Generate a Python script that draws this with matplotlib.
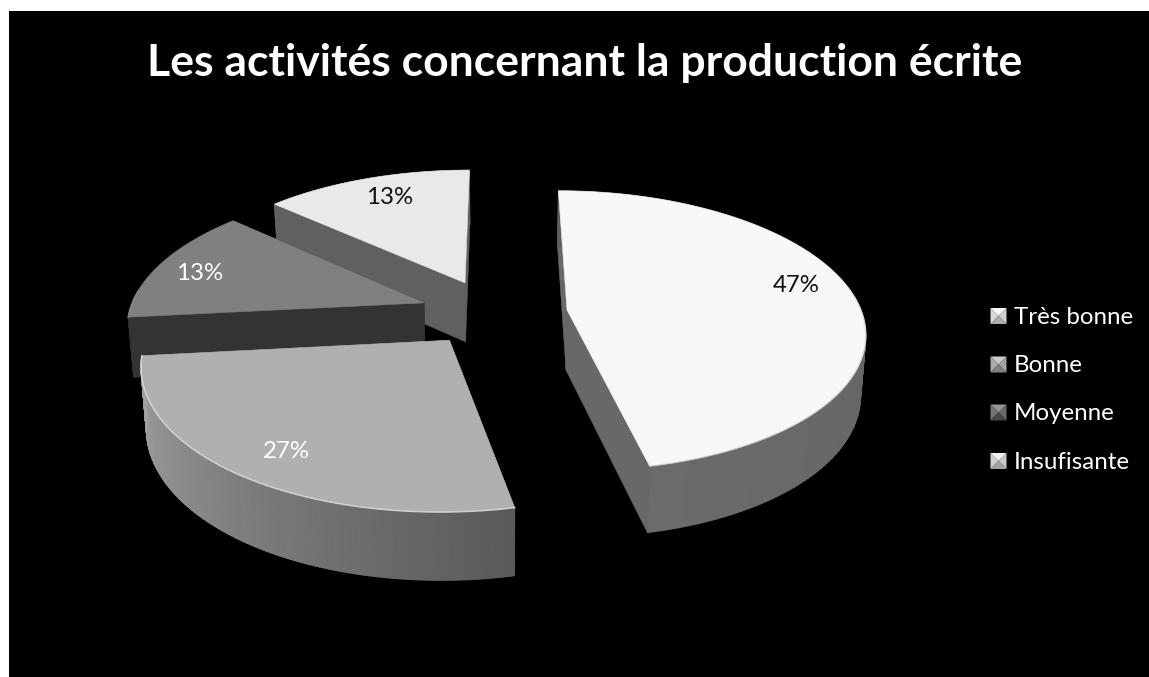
#!/usr/bin/env python3
# 3D exploded pie, drawn by hand since matplotlib has no perspective pie
import numpy as np
import matplotlib
matplotlib.use("Agg")
import matplotlib.pyplot as plt
from matplotlib.patches import Polygon, Rectangle

#-- Data
title = "Les activités concernant la production écrite"
categories = ["Très bonne", "Bonne", "Moyenne", "Insufisante"]
counts = [7, 4, 2, 2]

#-- Slice styles
top_grey = ["#f7f7f7", "#b0b0b0", "#808080", "#e9e9e9"]
cut_grey = ["#686868", "#5a5a5a", "#333333", "#606060"]
wall_start = [0.37, 0.35, 0.20, 0.38]
wall_end = [0.42, 0.64, 0.20, 0.38]
rim_grey = ["#c4c4c4", "#e6e6e6", "#8c8c8c", "#f0f0f0"]
rim_alpha = [0.45, 0.7, 0.7, 0.7]
text_grey = ["#111111", "#ffffff", "#ffffff", "#111111"]
explode_a = [67, -49, -76.6, -36]
explode_b = [0, 63, -15.5, -60]
label_x = [796, 286, 200, 390]
label_y = [286, 452, 273, 198]
legend_y = [316, 364.5, 412.5, 461]
legend_grey = [0.92, 0.74, 0.52, 0.88]

#-- Projection settings, in pixels
RADIUS = 294
PERSP = 0.147
VX, VY = 500, -620
PLANE = 930


def project(a, b, bottom=False):
    s = 1.0 / (1.0 - PERSP * b / RADIUS)
    if bottom:
        return VX + a * s * 0.985, VY + 22 + 968 * s
    return VX + a * s, VY + PLANE * s


def ground(i, deg):
    t = np.radians(deg)
    return explode_a[i] + RADIUS * np.sin(t), explode_b[i] - RADIUS * np.cos(t)


def cut_face(i, deg, z):
    ra, rb = ground(i, deg)
    ca, cb = explode_a[i], explode_b[i]
    ax.add_patch(Polygon([project(ca, cb), project(ra, rb), project(ra, rb, True),
                          project(ca, cb, True)],
                         fc=cut_grey[i], ec=cut_grey[i], lw=0.4, zorder=z))


fig = plt.figure(figsize=(11.49, 6.77), dpi=100, facecolor="white")
ax = fig.add_axes([0, 0, 1, 1])
ax.set_xlim(0, 1149)
ax.set_ylim(677, 0)
ax.axis("off")
ax.add_patch(Rectangle((9, 11), 1140, 666, fc="black", ec="none", zorder=0))

edges = np.cumsum([0] + counts) / sum(counts) * 360
percents = [round(c / sum(counts) * 100) for c in counts]

#-- back slices first so the front ones cover them
for z, i in zip([10, 20, 30, 40], [3, 2, 0, 1]):
    start, end = edges[i], edges[i + 1]
    angles = np.linspace(start, end, 160)
    ca, cb = explode_a[i], explode_b[i]

    # cut faces turned away from the viewer go behind the outer wall
    start_front = np.sin(np.radians(start)) < -1e-6
    end_front = np.sin(np.radians(end)) > 1e-6
    if not start_front:
        cut_face(i, start, z)
    if not end_front:
        cut_face(i, end, z)

    # outer wall as a smooth grey strip
    ga, gb = ground(i, angles)
    tx, ty = project(ga, gb)
    bx, by = project(ga, gb, True)
    shade = np.linspace(wall_start[i], wall_end[i], len(angles))
    ax.pcolormesh(np.vstack([tx, bx]), np.vstack([ty, by]), np.vstack([shade, shade]),
                  shading="gouraud", cmap="gray", vmin=0, vmax=1, zorder=z + 1)

    if start_front:
        cut_face(i, start, z + 2)
    if end_front:
        cut_face(i, end, z + 2)

    # top of the slice, with a light rim on the near side only
    ax.add_patch(Polygon([project(ca, cb)] + list(zip(tx, ty)), fc=top_grey[i],
                         ec=top_grey[i], lw=0.4, zorder=z + 3))
    near = np.cos(np.radians(angles)) < 0.1
    ax.plot(tx[near], ty[near], color=rim_grey[i], lw=1.1, alpha=rim_alpha[i], zorder=z + 4)

    ax.text(label_x[i], label_y[i], f"{percents[i]}%", color=text_grey[i],
            fontsize=17.3, family="Lato", ha="center", va="center", zorder=60)

ax.text(584.5, 63, title, color="white", fontsize=32, family="Lato",
        fontweight="bold", ha="center", va="center", zorder=60)

#-- Legend with bevelled squares
box = 16
for y, name, g in zip(legend_y, categories, legend_grey):
    x0, y0 = 990.5, y - box / 2
    mid = (x0 + box / 2, y0 + box / 2)
    sides = [([(x0, y0), (x0 + box, y0), mid], g + 0.06),
             ([(x0, y0), (x0, y0 + box), mid], g - 0.07),
             ([(x0 + box, y0), (x0 + box, y0 + box), mid], g - 0.10),
             ([(x0, y0 + box), (x0 + box, y0 + box), mid], g - 0.24)]
    for pts, shade in sides:
        shade = min(shade, 1.0)
        ax.add_patch(Polygon(pts, fc=(shade, shade, shade), ec="none", zorder=61))
    ax.text(1014, y + 8, name, color="white", fontsize=17.4, family="Lato",
            ha="left", va="baseline", zorder=60)

fig.savefig("out.png", dpi=100)
